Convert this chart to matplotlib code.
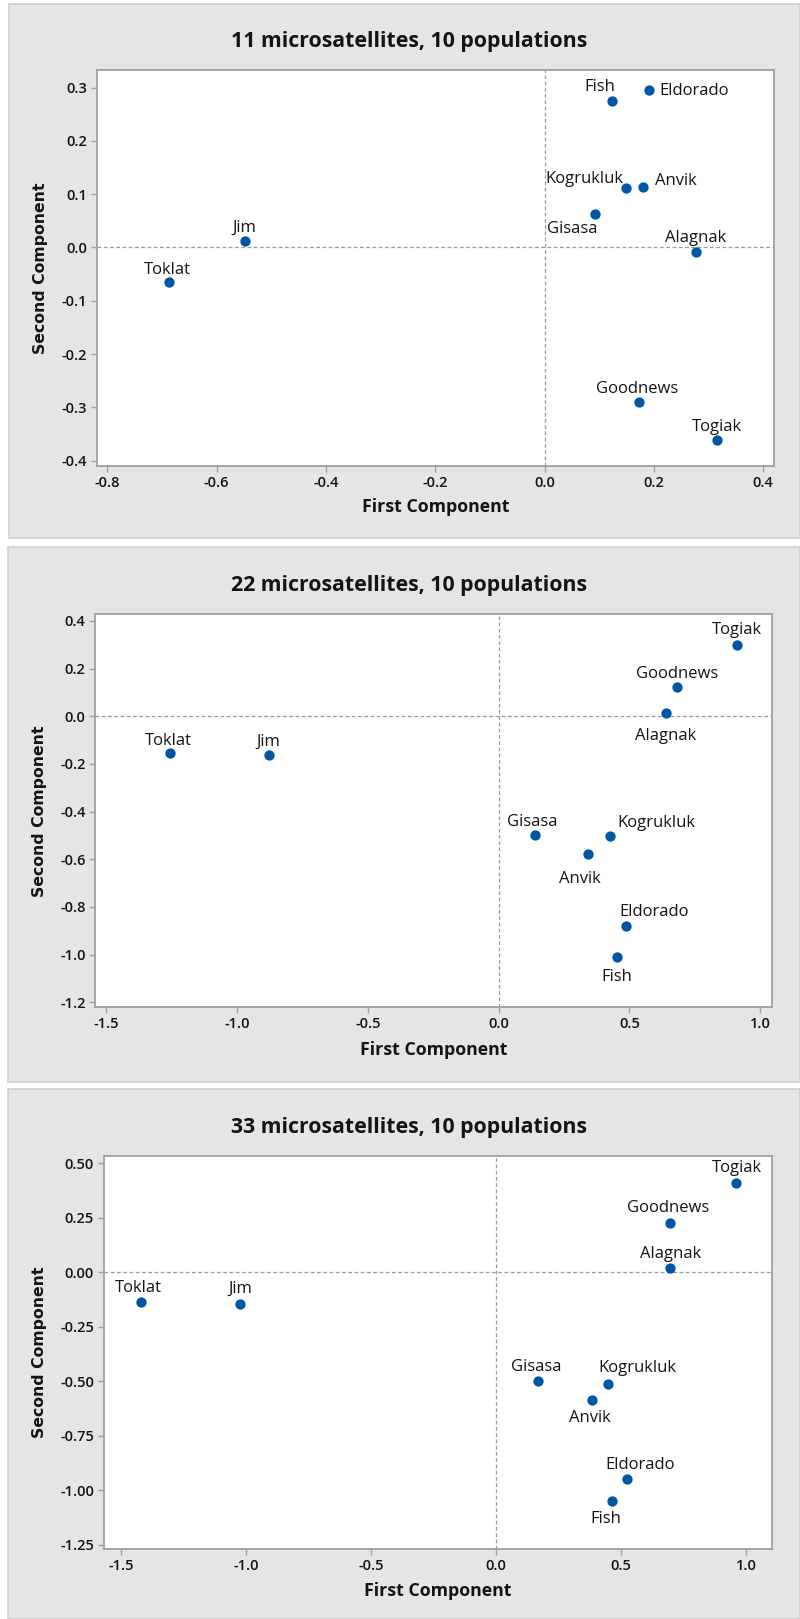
import matplotlib
matplotlib.use("Agg")
import matplotlib.pyplot as plt
from matplotlib.patches import Rectangle

plt.rcParams['font.family'] = ['Open Sans', 'DejaVu Sans']

populations = ["Fish", "Eldorado", "Kogrukluk", "Anvik", "Gisasa",
               "Alagnak", "Jim", "Toklat", "Goodnews", "Togiak"]

titles = ["11 microsatellites, 10 populations",
          "22 microsatellites, 10 populations",
          "33 microsatellites, 10 populations"]

pc1_11 = [0.124, 0.191, 0.149, 0.180, 0.093, 0.277, -0.549, -0.687, 0.173, 0.316]
pc2_11 = [0.275, 0.295, 0.112, 0.114, 0.062, -0.008, 0.013, -0.064, -0.289, -0.362]

pc1_22 = [0.452, 0.486, 0.427, 0.341, 0.138, 0.640, -0.876, -1.254, 0.682, 0.912]
pc2_22 = [-1.011, -0.882, -0.503, -0.578, -0.497, 0.013, -0.162, -0.156, 0.124, 0.299]

pc1_33 = [0.463, 0.525, 0.447, 0.384, 0.167, 0.698, -1.022, -1.418, 0.698, 0.959]
pc2_33 = [-1.049, -0.947, -0.512, -0.588, -0.499, 0.019, -0.146, -0.138, 0.226, 0.409]

xticks = [[-0.8, -0.6, -0.4, -0.2, 0.0, 0.2, 0.4],
          [-1.5, -1.0, -0.5, 0.0, 0.5, 1.0],
          [-1.5, -1.0, -0.5, 0.0, 0.5, 1.0]]
xticklabels = [["-0.8", "-0.6", "-0.4", "-0.2", "0.0", "0.2", "0.4"],
               ["-1.5", "-1.0", "-0.5", "0.0", "0.5", "1.0"],
               ["-1.5", "-1.0", "-0.5", "0.0", "0.5", "1.0"]]
yticks = [[-0.4, -0.3, -0.2, -0.1, 0.0, 0.1, 0.2, 0.3],
          [-1.2, -1.0, -0.8, -0.6, -0.4, -0.2, 0.0, 0.2, 0.4],
          [-1.25, -1.00, -0.75, -0.50, -0.25, 0.00, 0.25, 0.50]]
yticklabels = [["-0.4", "-0.3", "-0.2", "-0.1", "0.0", "0.1", "0.2", "0.3"],
               ["-1.2", "-1.0", "-0.8", "-0.6", "-0.4", "-0.2", "0.0", "0.2", "0.4"],
               ["-1.25", "-1.00", "-0.75", "-0.50", "-0.25", "0.00", "0.25", "0.50"]]

xlabel = "First Component"
ylabel = "Second Component"

# ---- layout (pixels) ----
W, H = 800, 1619
fig = plt.figure(figsize=(W / 100, H / 100), dpi=100)
fig.patch.set_facecolor("white")

panel_boxes = [(9, 4, 800, 538), (8, 547, 800, 1082), (8, 1089, 800, 1619)]
axes_boxes = [(97, 70.5, 774, 466), (95.4, 614, 772, 1007.5), (103.6, 1156, 772, 1549)]
xlims = [(-0.819, 0.420), (-1.541, 1.045), (-1.569, 1.104)]
ylims = [(-0.410, 0.332), (-1.222, 0.429), (-1.270, 0.533)]
title_y = [42, 585, 1127]
xlabel_y = [507, 1050, 1591]
ylabel_x = [41, 40, 40]

# label offsets (dx px, dy px of baseline, ha) per population, per panel
label_layout = [
    [(-12, 10, "center"), (11, -4.5, "left"), (-2.5, 5, "right"), (11.7, 2, "left"),
     (-22.7, -18.4, "center"), (0, 9.7, "center"), (0, 8.3, "center"), (-2, 8, "center"),
     (-2, 8.7, "center"), (0, 9.7, "center")],
    [(0, -24, "center"), (-6.6, 10.3, "left"), (7, 9.3, "left"), (-8, -29, "center"),
     (-2, 9, "center"), (0, -26.6, "center"), (-1.5, 9.3, "center"), (-2, 8.6, "center"),
     (0, 9, "center"), (0, 11, "center")],
    [(-5.6, -21.8, "center"), (-22, 9.5, "left"), (-9.6, 12, "left"), (-2.3, -21.8, "center"),
     (-1.6, 9.9, "center"), (0, 9.9, "center"), (0, 11, "center"), (-2.5, 10.2, "center"),
     (-2, 10.9, "center"), (1, 10.9, "center")],
]

data = [(pc1_11, pc2_11), (pc1_22, pc2_22), (pc1_33, pc2_33)]

bg = "#e5e5e5"
edge = "#cfcfcf"
spine_c = "#a0a0a0"
dot_c = "#0055a5"
txt_c = "#141414"

for i in range(3):
    x0, y0, x1, y1 = panel_boxes[i]
    rect = Rectangle((x0 / W, 1 - y1 / H), (x1 - x0) / W, (y1 - y0) / H,
                     transform=fig.transFigure, facecolor=bg,
                     edgecolor=edge, linewidth=1.2, zorder=-10)
    fig.add_artist(rect)
    ax0, ay0, ax1, ay1 = axes_boxes[i]
    ax = fig.add_axes([ax0 / W, 1 - ay1 / H, (ax1 - ax0) / W, (ay1 - ay0) / H], zorder=1)
    ax.set_facecolor("white")
    for s in ax.spines.values():
        s.set_color(spine_c)
        s.set_linewidth(1.3)
    ax.set_xlim(*xlims[i])
    ax.set_ylim(*ylims[i])
    ax.set_xticks(xticks[i])
    ax.set_xticklabels(xticklabels[i])
    ax.set_yticks(yticks[i])
    ax.set_yticklabels(yticklabels[i])
    ax.tick_params(direction="out", length=4, width=1, color=spine_c,
                   labelsize=10.5, pad=3, labelcolor=txt_c)
    for lab in ax.get_xticklabels() + ax.get_yticklabels():
        lab.set_fontweight("semibold")
    ax.axhline(0, color="#9a9a9a", lw=0.9, ls=(0, (3, 2)), zorder=1)
    ax.axvline(0, color="#9a9a9a", lw=0.9, ls=(0, (3, 2)), zorder=1)

    xs, ys = data[i]
    ax.scatter(xs, ys, s=55, color=dot_c, zorder=3, linewidths=0)
    for name, xv, yv, (dx, dy, ha) in zip(populations, xs, ys, label_layout[i]):
        ax.annotate(name, (xv, yv), xytext=(dx, dy), textcoords="offset pixels",
                    ha=ha, va="baseline", fontsize=12, color=txt_c, zorder=4)

    fig.text(409 / W, 1 - title_y[i] / H, titles[i], ha="center", va="center",
             fontsize=15.3, fontweight="bold", color=txt_c, zorder=5)
    fig.text((ax0 + ax1) / 2 / W, 1 - xlabel_y[i] / H, xlabel, ha="center", va="center",
             fontsize=12.8, fontweight="bold", color=txt_c, zorder=5)
    fig.text(ylabel_x[i] / W, 1 - (ay0 + ay1) / 2 / H, ylabel, ha="center", va="center",
             rotation=90, fontsize=11.3, fontweight="bold", color=txt_c, zorder=5,
             family=["DejaVu Sans"])

fig.savefig("out.png", dpi=100, facecolor="white")
